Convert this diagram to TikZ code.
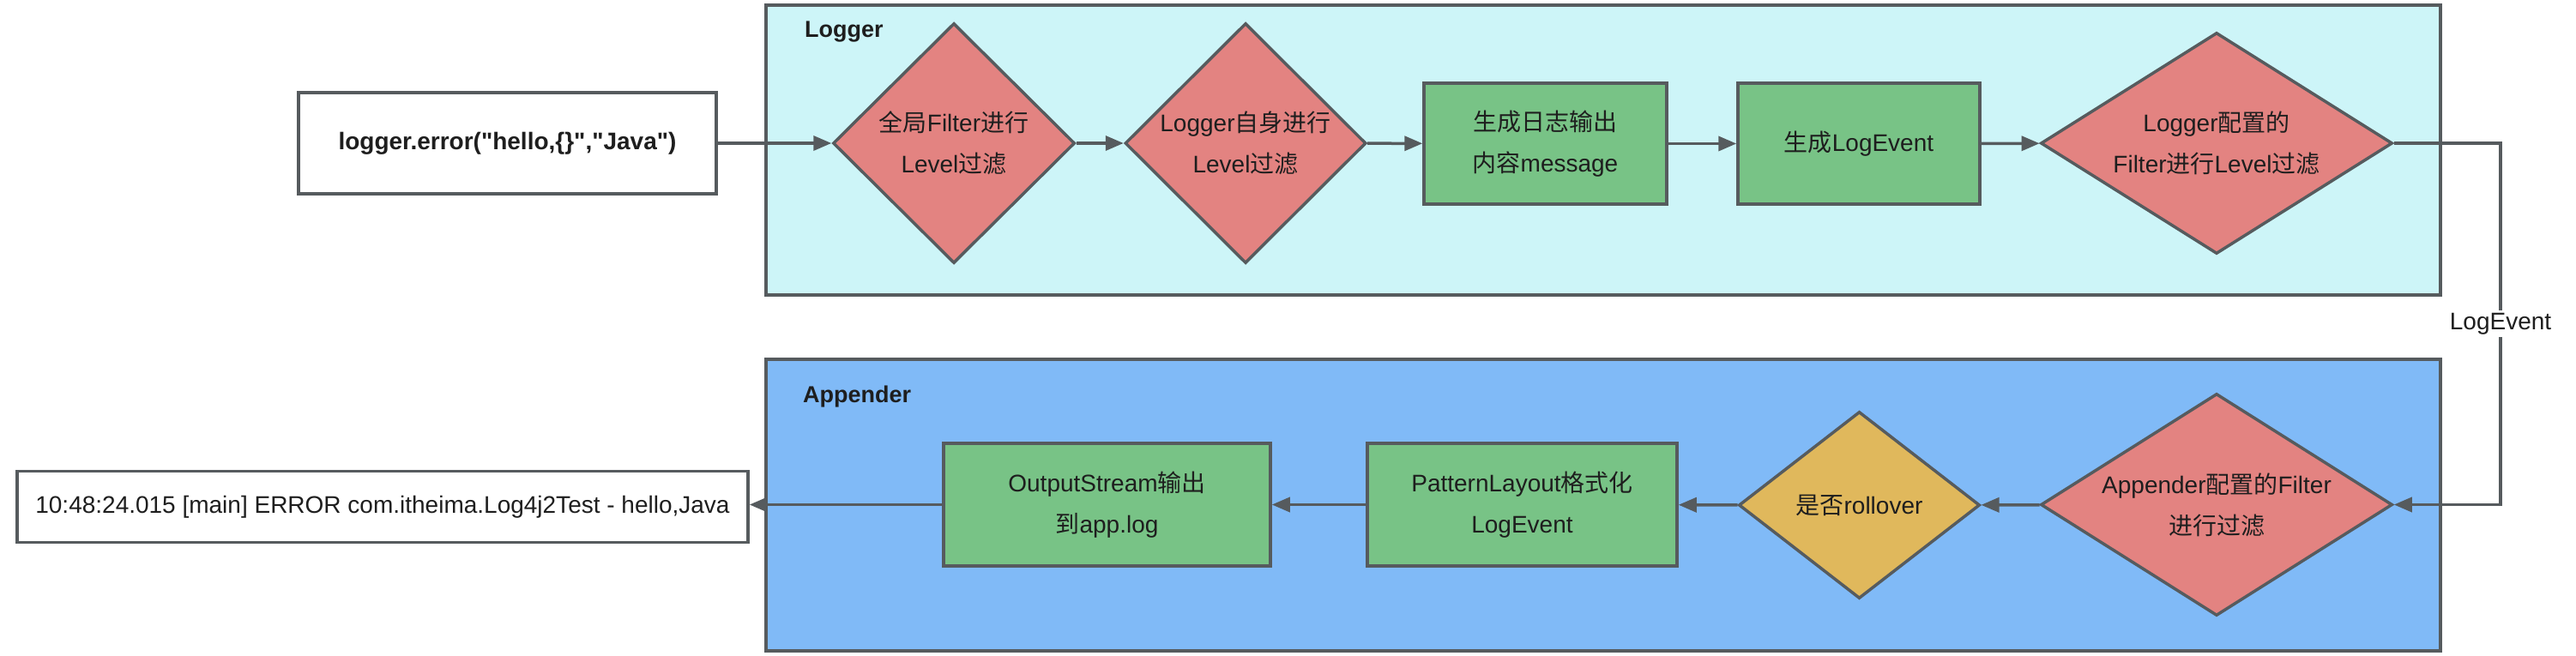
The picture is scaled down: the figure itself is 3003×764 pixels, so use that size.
\documentclass[tikz,border=0pt]{standalone}
\usepackage{fontspec}
\setmainfont{Liberation Sans}
\newfontfamily\cjk{Noto Sans CJK SC}
\usetikzlibrary{shapes.geometric,arrows.meta}
\definecolor{strokec}{HTML}{565B5E}
\definecolor{txtc}{HTML}{1E1E1E}
\definecolor{cyanc}{HTML}{CDF5F8}
\definecolor{bluec}{HTML}{80BAF7}
\definecolor{redc}{HTML}{E38381}
\definecolor{greenc}{HTML}{78C386}
\definecolor{yellowc}{HTML}{E0B85C}
\begin{document}
\begin{tikzpicture}[x=1pt,y=-1pt,
  base/.style={draw=strokec, line width=3.5pt, inner sep=0pt, align=center, text=txtc, font=\fontsize{28}{48}\selectfont},
  dia/.style={base, diamond, fill=redc},
  gbox/.style={base, rectangle, fill=greenc},
  wbox/.style={base, rectangle, fill=white},
  container/.style={draw=strokec, line width=3.5pt, rectangle, inner sep=0pt},
  title/.style={anchor=west, inner sep=0pt, text=txtc, font=\fontsize{27}{32}\selectfont\bfseries},
  arr/.style={draw=strokec, line width=3.5pt, -{Triangle[length=21pt,width=17pt]}},
  lbl/.style={fill=white, inner sep=3pt, text=txtc, font=\fontsize{28}{32}\selectfont}]
\useasboundingbox (0,0) rectangle (3003,764);
\fill[white] (0,0) rectangle (3003,764);

% containers
\node[container, fill=cyanc, minimum width=1952pt, minimum height=338pt] (loggerc) at (1869,175) {};
\node[title] (loggert) at (938,37) {Logger};
\node[container, fill=bluec, minimum width=1952pt, minimum height=340pt] (appc) at (1869,589) {};
\node[title] (appt) at (936,463) {Appender};

% top row
\node[wbox, minimum width=487pt, minimum height=118pt, font=\fontsize{28}{48}\selectfont\bfseries] (call) at (591.5,167) {logger.error(\textquotedbl hello,\{\}\textquotedbl,\textquotedbl Java\textquotedbl)};
\node[dia, shape aspect=1, minimum width=282pt, minimum height=280pt] (d1) at (1112,167) {{\cjk 全局}Filter{\cjk 进行}\\Level{\cjk 过滤}};
\node[dia, shape aspect=1, minimum width=281pt, minimum height=280pt] (d2) at (1452,167) {Logger{\cjk 自身进行}\\Level{\cjk 过滤}};
\node[gbox, minimum width=283pt, minimum height=141pt] (b3) at (1801.5,167.5) {{\cjk 生成日志输出}\\{\cjk 内容}message};
\node[gbox, minimum width=282pt, minimum height=141pt] (b4) at (2167,167.5) {{\cjk 生成}LogEvent};
\node[dia, shape aspect=1.59, minimum width=410pt, minimum height=258pt] (d5) at (2584,167) {Logger{\cjk 配置的}\\Filter{\cjk 进行}Level{\cjk 过滤}};

% bottom row
\node[dia, shape aspect=1.59, minimum width=410pt, minimum height=259pt] (d6) at (2584,588.5) {Appender{\cjk 配置的}Filter\\{\cjk 进行过滤}};
\node[base, diamond, shape aspect=1.29, fill=yellowc, minimum width=281pt, minimum height=218pt] (d7) at (2167.5,589) {{\cjk 是否}rollover};
\node[gbox, minimum width=361pt, minimum height=143pt] (b8) at (1774.5,588.5) {PatternLayout{\cjk 格式化}\\LogEvent};
\node[gbox, minimum width=381pt, minimum height=143pt] (b9) at (1290.5,588.5) {OutputStream{\cjk 输出}\\{\cjk 到}app.log};
\node[wbox, minimum width=852pt, minimum height=83pt] (out) at (446,591) {10:48:24.015 [main] ERROR com.itheima.Log4j2Test - hello,Java};

\coordinate (c1) at (2915,167);
\coordinate (c2) at (2915,588.5);

% connectors
\draw[arr] (call) -- (d1);
\draw[arr] (d1) -- (d2);
\draw[arr] (d2) -- (b3);
\draw[arr] (b3) -- (b4);
\draw[arr] (b4) -- (d5);
\draw[arr] (d5.east) -- (c1) -- node[lbl] (le) {LogEvent} (c2) -- (d6.east);
\draw[arr] (d6) -- (d7);
\draw[arr] (d7) -- (b8);
\draw[arr] (b8) -- (b9);
\draw[arr] (b9.west) -- (b9.west -| out.east);
\end{tikzpicture}
\end{document}
